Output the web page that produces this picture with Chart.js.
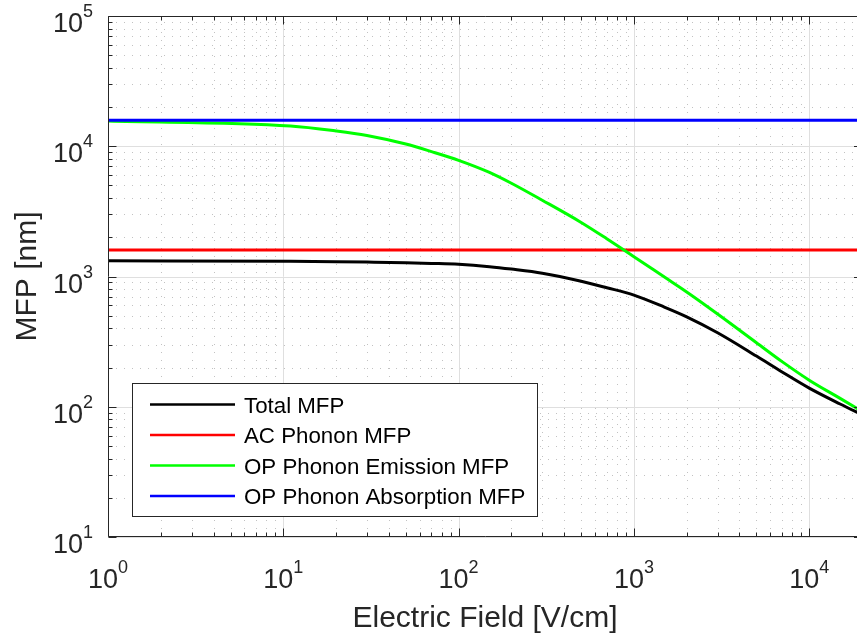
<!DOCTYPE html>
<html>
<head>
<meta charset="utf-8">
<script src="https://cdn.jsdelivr.net/npm/chart.js@4.4.1/dist/chart.umd.min.js"></script>
<style>
  html, body { margin: 0; padding: 0; background: #fff; overflow: hidden; width: 857px; height: 641px; }
  #wrap { position: absolute; left: 0; top: 0; width: 866px; height: 641px; }
</style>
</head>
<body>
<div id="wrap"><canvas id="mfp" width="866" height="641"></canvas></div>
<script>
// Electric field samples [V/cm]
const fieldValues = [1, 11, 20, 30, 50, 70, 100, 150, 200, 300, 500, 700, 1000, 1500, 2000, 3000, 5000, 7000, 10000, 15000, 20000];
// Mean free paths [nm] at each field sample
const totalMfp    = [1320, 1310, 1300, 1290, 1275, 1260, 1240, 1190, 1140, 1060, 920, 820, 720, 580, 490, 370, 245, 185, 139, 105, 87];
const opEmission  = [15600, 14300, 13100, 12100, 10400, 9100, 7800, 6300, 5200, 3850, 2600, 1950, 1420, 985, 760, 515, 310, 222, 160, 116, 92];
// Field-independent mechanisms
const flatField    = [1, 20000];
const acMfp        = [1600, 1600];
const opAbsorption = [15800, 15800];

const seriesLabels = ['Total MFP', 'AC Phonon MFP', 'OP Phonon Emission MFP', 'OP Phonon Absorption MFP'];
const seriesColors = ['#000000', '#ff0000', '#00ff00', '#0000ff'];

// Axis ranges and decade tick exponents
const xRange = [1, 20000];
const yRange = [10, 100000];
const xTickExponents = [0, 1, 2, 3, 4];
const yTickExponents = [1, 2, 3, 4, 5];
const xTitle = 'Electric Field [V/cm]';
const yTitle = 'MFP [nm]';

const INK = '#262626';
const FONT = '"Liberation Sans", Arial, Helvetica, sans-serif';

const pairs = (xs, ys) => xs.map((x, i) => ({ x, y: ys[i] }));

function logTicks(min, max) {
  const major = [], minor = [];
  for (let e = Math.floor(Math.log10(min)); e <= Math.ceil(Math.log10(max)); e++) {
    const p = Math.pow(10, e);
    if (p >= min && p <= max) major.push(p);
    for (let m = 2; m <= 9; m++) {
      const v = m * p;
      if (v > min && v < max) minor.push(v);
    }
  }
  return { major, minor };
}

// Power-of-ten label: "10" with a raised exponent
function powerLabel(ctx, exp, x, y, align) {
  const base = '10', sup = String(exp);
  ctx.font = '27px ' + FONT;
  const wb = ctx.measureText(base).width;
  ctx.font = '18px ' + FONT;
  const ws = ctx.measureText(sup).width;
  const total = wb + ws;
  const start = align === 'center' ? x - total / 2 : x - total;
  ctx.textAlign = 'left';
  ctx.textBaseline = 'alphabetic';
  ctx.font = '27px ' + FONT;
  ctx.fillText(base, start, y);
  ctx.font = '18px ' + FONT;
  ctx.fillText(sup, start + wb, y - 15);
}

const gridPlugin = {
  id: 'matlabGrid',
  beforeDatasetsDraw(chart) {
    const { ctx, chartArea: a, scales: { x, y } } = chart;
    const xt = logTicks(xRange[0], xRange[1]);
    const yt = logTicks(yRange[0], yRange[1]);
    ctx.save();
    // minor dotted grid
    ctx.strokeStyle = '#c2c2c2';
    ctx.lineWidth = 1;
    ctx.setLineDash([1, 7]);
    ctx.beginPath();
    xt.minor.forEach(v => {
      const px = Math.round(x.getPixelForValue(v)) + 0.5;
      ctx.moveTo(px, a.top); ctx.lineTo(px, a.bottom);
    });
    yt.minor.forEach(v => {
      const py = Math.round(y.getPixelForValue(v)) + 0.5;
      ctx.moveTo(a.left, py); ctx.lineTo(a.right, py);
    });
    ctx.stroke();
    // major solid grid
    ctx.setLineDash([]);
    ctx.strokeStyle = '#dfdfdf';
    ctx.beginPath();
    xt.major.forEach(v => {
      const px = Math.round(x.getPixelForValue(v)) + 0.5;
      ctx.moveTo(px, a.top); ctx.lineTo(px, a.bottom);
    });
    yt.major.forEach(v => {
      const py = Math.round(y.getPixelForValue(v)) + 0.5;
      ctx.moveTo(a.left, py); ctx.lineTo(a.right, py);
    });
    ctx.stroke();
    ctx.restore();
  },
  afterDatasetsDraw(chart) {
    const { ctx, chartArea: a, scales: { x, y } } = chart;
    const xt = logTicks(xRange[0], xRange[1]);
    const yt = logTicks(yRange[0], yRange[1]);
    ctx.save();
    ctx.strokeStyle = INK;
    ctx.lineWidth = 1;
    const L = Math.round(a.left) + 0.5, T = Math.round(a.top) + 0.5, B = Math.round(a.bottom) - 0.5;
    // axis box (left, top, bottom)
    ctx.beginPath();
    ctx.moveTo(a.right, T); ctx.lineTo(L, T); ctx.lineTo(L, B); ctx.lineTo(a.right, B);
    ctx.stroke();
    // inward tick marks
    ctx.beginPath();
    const xTick = (v, len) => {
      const px = Math.round(x.getPixelForValue(v)) + 0.5;
      ctx.moveTo(px, B); ctx.lineTo(px, B - len);
      ctx.moveTo(px, T); ctx.lineTo(px, T + len);
    };
    const yTick = (v, len) => {
      const py = Math.round(y.getPixelForValue(v)) + 0.5;
      ctx.moveTo(L, py); ctx.lineTo(L + len, py);
      ctx.moveTo(a.right, py); ctx.lineTo(a.right - len, py);
    };
    xt.major.forEach(v => xTick(v, 8));
    xt.minor.forEach(v => xTick(v, 4));
    yt.major.forEach(v => yTick(v, 8));
    yt.minor.forEach(v => yTick(v, 4));
    ctx.stroke();

    // tick labels
    ctx.fillStyle = INK;
    xTickExponents.forEach(e => powerLabel(ctx, e, x.getPixelForValue(Math.pow(10, e)), a.bottom + 51, 'center'));
    yTickExponents.forEach(e => powerLabel(ctx, e, a.left - 15, y.getPixelForValue(Math.pow(10, e)) + 16, 'right'));

    // axis titles
    ctx.font = '30px ' + FONT;
    ctx.textAlign = 'center';
    ctx.textBaseline = 'alphabetic';
    ctx.fillText(xTitle, (a.left + a.right) / 2, 627);
    ctx.save();
    ctx.translate(36, (a.top + a.bottom) / 2);
    ctx.rotate(-Math.PI / 2);
    ctx.fillText(yTitle, 0, 0);
    ctx.restore();

    // legend box
    const box = { l: 132.5, t: 383.5, w: 405, h: 133 };
    ctx.fillStyle = '#ffffff';
    ctx.fillRect(box.l, box.t, box.w, box.h);
    ctx.strokeStyle = INK;
    ctx.lineWidth = 1;
    ctx.strokeRect(box.l, box.t, box.w, box.h);
    ctx.font = '22.3px ' + FONT;
    ctx.textAlign = 'left';
    chart.data.datasets.forEach((ds, i) => {
      const rowY = 404.5 + i * 30.5;
      ctx.strokeStyle = ds.borderColor;
      ctx.lineWidth = 2.5;
      ctx.beginPath();
      ctx.moveTo(150, rowY); ctx.lineTo(235, rowY);
      ctx.stroke();
      ctx.fillStyle = '#000000';
      ctx.fillText(ds.label, 244, rowY + 8);
    });
    ctx.restore();
  }
};

const datasets = [
  { label: seriesLabels[0], data: pairs(fieldValues, totalMfp), borderColor: seriesColors[0], order: 4, cubicInterpolationMode: 'monotone' },
  { label: seriesLabels[1], data: pairs(flatField, acMfp), borderColor: seriesColors[1], order: 3 },
  { label: seriesLabels[2], data: pairs(fieldValues, opEmission), borderColor: seriesColors[2], order: 2, cubicInterpolationMode: 'monotone' },
  { label: seriesLabels[3], data: pairs(flatField, opAbsorption), borderColor: seriesColors[3], order: 1 }
].map(d => Object.assign({ borderWidth: 3, pointRadius: 0, fill: false, backgroundColor: d.borderColor }, d));

new Chart(document.getElementById('mfp'), {
  type: 'line',
  data: { datasets },
  options: {
    responsive: false,
    animation: false,
    devicePixelRatio: 1,
    layout: { padding: { left: 108, top: 16, right: 4, bottom: 104 } },
    scales: {
      x: { type: 'logarithmic', min: xRange[0], max: xRange[1], display: false },
      y: { type: 'logarithmic', min: yRange[0], max: yRange[1], display: false }
    },
    plugins: { legend: { display: false }, tooltip: { enabled: false } }
  },
  plugins: [gridPlugin]
});
</script>
</body>
</html>
